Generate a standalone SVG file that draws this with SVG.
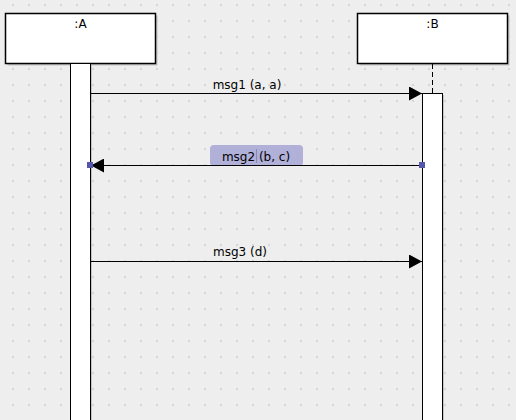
<svg xmlns="http://www.w3.org/2000/svg" width="516" height="420" viewBox="0 0 516 420">
<defs>
<pattern id="grid" x="0" y="0" width="16" height="16" patternUnits="userSpaceOnUse">
<rect x="12" y="4" width="2" height="2" fill="#d6d6d6"/>
</pattern>
<marker id="arr" markerWidth="14" markerHeight="14" refX="13" refY="7" orient="auto" markerUnits="userSpaceOnUse">
<path d="M0,0 L13,7 L0,14 z" fill="#000"/>
</marker>
</defs>
<style>
.box{fill:#fff;stroke:#000;stroke-width:1.5}
.shadow{fill:#c4c4c4}
.act{fill:#fff;stroke:#000;stroke-width:1}
.lbl{font-family:"DejaVu Sans",sans-serif;font-size:12px;fill:#000;text-anchor:middle}
.msg{stroke:#000;stroke-width:1;fill:none}
</style>
<rect width="516" height="420" fill="#eeeeee"/>
<rect width="516" height="420" fill="url(#grid)"/>
<g id="A">
<rect class="shadow" x="7.5" y="15.5" width="150" height="50"/>
<rect class="box" x="5.5" y="13.5" width="150" height="50"/>
<text class="lbl" x="80.5" y="28">:A</text>
<rect class="shadow" x="72" y="65" width="20" height="360"/>
<rect class="act" x="70.5" y="63.5" width="20" height="360"/>
</g>
<g id="B">
<rect class="shadow" x="359.5" y="15.5" width="150" height="50"/>
<rect class="box" x="357.5" y="13.5" width="150" height="50"/>
<text class="lbl" x="432.5" y="28">:B</text>
<line x1="432.5" y1="64" x2="432.5" y2="93" stroke="#000" stroke-width="1" stroke-dasharray="5,3"/>
<rect class="shadow" x="424" y="95" width="20" height="330"/>
<rect class="act" x="422.5" y="93.5" width="20" height="330"/>
</g>
<g id="connectors">
<g id="msg1">
<line class="msg" x1="91" y1="93.5" x2="422" y2="93.5" marker-end="url(#arr)"/>
<text class="lbl" x="247" y="89">msg1 (a, a)</text>
</g>
<g id="msg2">
<rect x="210" y="145" width="93" height="21" rx="4" fill="#b0b0d8"/>
<line class="msg" x1="422" y1="165.5" x2="91" y2="165.5" marker-end="url(#arr)"/>
<text class="lbl" x="256" y="161">msg2 (b, c)</text>
<line x1="256.5" y1="149" x2="256.5" y2="163" stroke="#8888bb" stroke-width="1"/>
<rect x="87" y="162" width="6" height="6" fill="#5555aa"/>
<rect x="419" y="162" width="6" height="6" fill="#5555aa"/>
</g>
<g id="msg3">
<line class="msg" x1="91" y1="261.5" x2="422" y2="261.5" marker-end="url(#arr)"/>
<text class="lbl" x="240" y="256">msg3 (d)</text>
</g>
</g>
</svg>
